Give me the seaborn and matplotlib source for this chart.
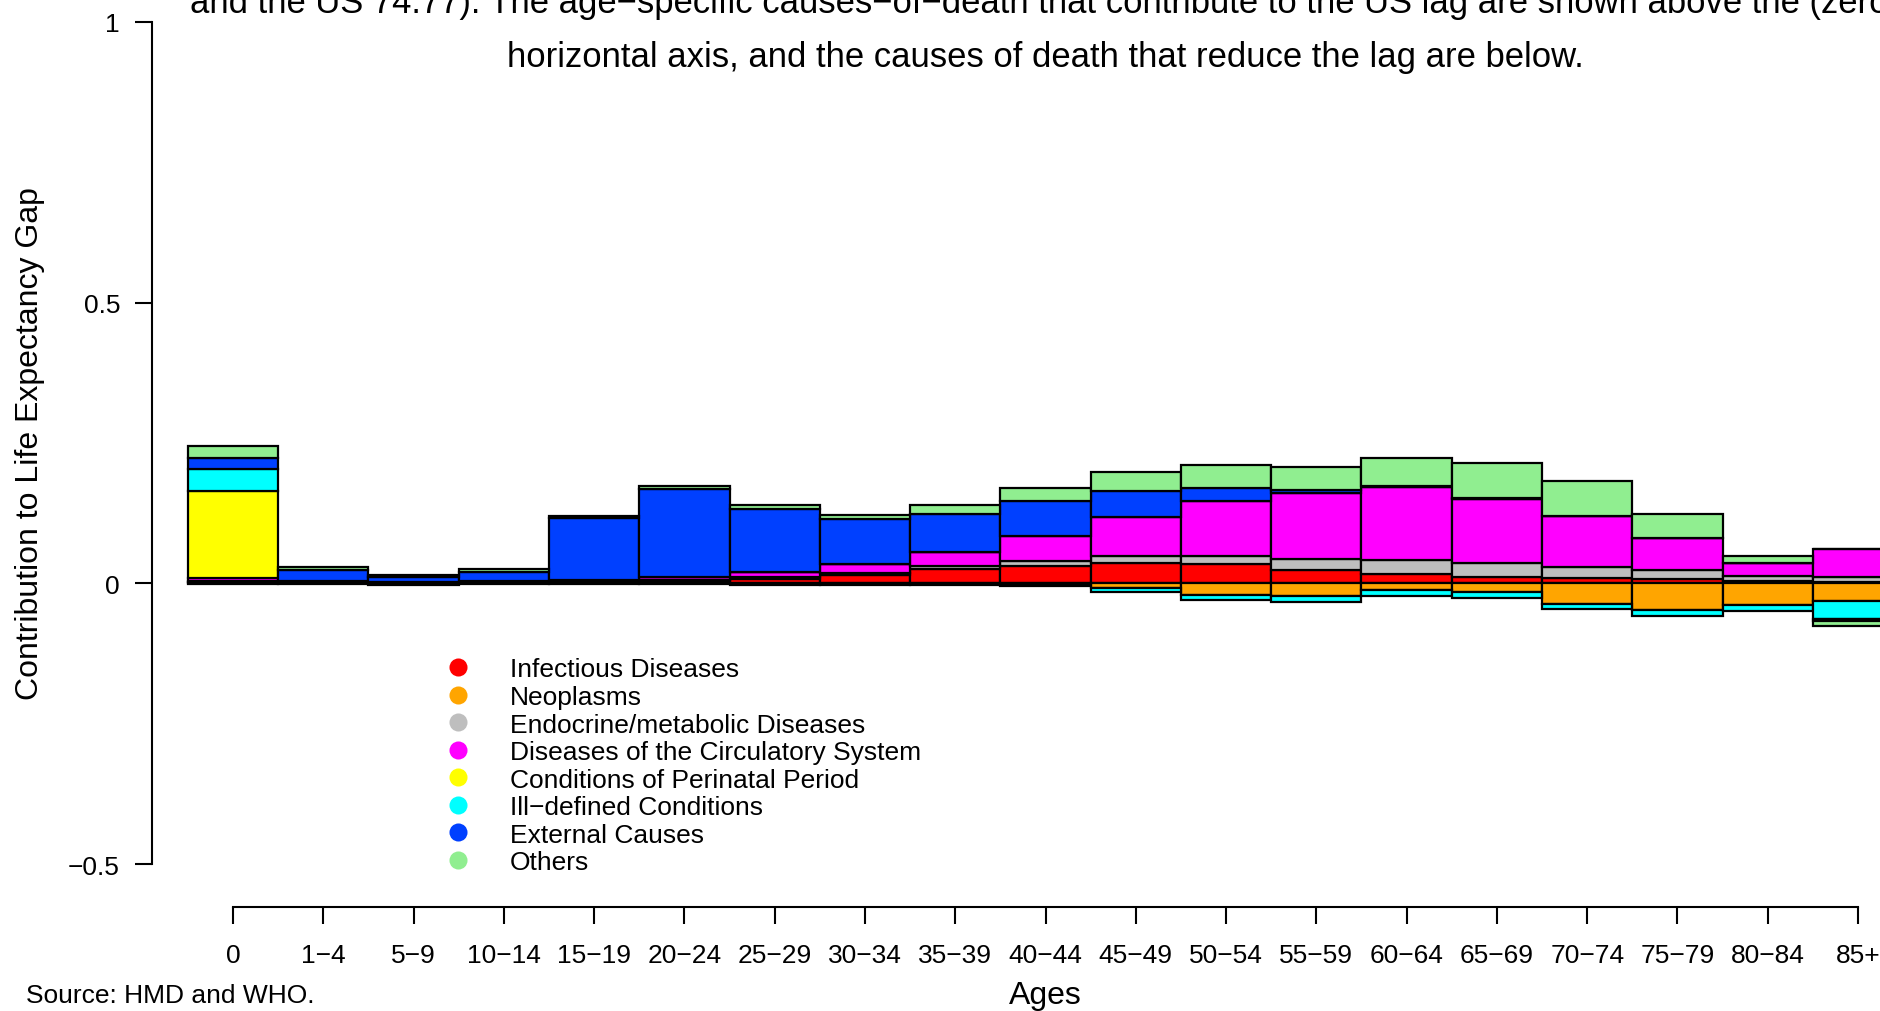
import numpy as np
import matplotlib
matplotlib.use("Agg")
import matplotlib.pyplot as plt
import seaborn as sns
from matplotlib.lines import Line2D

# ---------------- data ----------------
ages = ["0", "1\u22124", "5\u22129", "10\u221214", "15\u221219", "20\u221224", "25\u221229",
        "30\u221234", "35\u221239", "40\u221244", "45\u221249", "50\u221254", "55\u221259",
        "60\u221264", "65\u221269", "70\u221274", "75\u221279", "80\u221284", "85+"]

causes = ["Infectious Diseases", "Neoplasms", "Endocrine/metabolic Diseases",
          "Diseases of the Circulatory System", "Conditions of Perinatal Period",
          "Ill\u2212defined Conditions", "External Causes", "Others"]

infectious = [0.003, 0.001, 0.001, 0.001, 0.002, 0.004, 0.007, 0.015, 0.026, 0.031,
              0.036, 0.034, 0.023, 0.016, 0.011, 0.009, 0.007, 0.004, 0.003]
neoplasms = [-0.001, -0.001, -0.002, -0.001, -0.001, -0.001, -0.002, -0.002, -0.002, -0.003,
             -0.009, -0.020, -0.022, -0.011, -0.015, -0.036, -0.047, -0.039, -0.031]
endocrine = [0.002, 0.001, 0.001, 0.001, 0.001, 0.002, 0.004, 0.004, 0.005, 0.008,
             0.012, 0.015, 0.021, 0.025, 0.025, 0.021, 0.016, 0.009, 0.008]
circulatory = [0.005, 0.002, 0.001, 0.002, 0.003, 0.006, 0.009, 0.015, 0.025, 0.045,
               0.070, 0.097, 0.117, 0.131, 0.115, 0.090, 0.058, 0.023, 0.050]
perinatal = [0.155, 0.0, 0.0, 0.0, 0.0, 0.0, 0.0, 0.0, 0.0, 0.0,
             0.0, 0.0, 0.0, 0.0, 0.0, 0.0, 0.0, 0.0, 0.0]
illdefined = [0.039, 0.0, 0.0, 0.0, 0.0, 0.0, 0.0, 0.0, 0.0, -0.002,
              -0.006, -0.009, -0.012, -0.012, -0.011, -0.009, -0.011, -0.011, -0.033]
external = [0.019, 0.020, 0.008, 0.017, 0.110, 0.156, 0.113, 0.080, 0.068, 0.062,
            0.046, 0.023, 0.006, 0.001, 0.0005, 0.0005, 0.0, 0.001, -0.003]
others = [0.021, 0.005, 0.0035, 0.005, 0.004, 0.006, 0.007, 0.008, 0.015, 0.024,
          0.035, 0.042, 0.041, 0.051, 0.063, 0.062, 0.042, 0.011, -0.009]

series = [infectious, neoplasms, endocrine, circulatory, perinatal, illdefined, external, others]
colors = ["#FF0000", "#FFA500", "#BEBEBE", "#FF00FF", "#FFFF00", "#00FFFF", "#0040FF", "#90EE90"]

ytick_vals = [-0.5, 0, 0.5, 1]
ytick_labels = ["\u22120.5", "0", "0.5", "1"]

title_lines = [
    "and the US 74.77). The age\u2212specific causes\u2212of\u2212death that contribute to the US lag are shown above the (zero)",
    "horizontal axis, and the causes of death that reduce the lag are below.",
]

# ---------------- style ----------------
sns.set_style("ticks")
plt.rcParams["font.family"] = ["Liberation Sans", "DejaVu Sans"]
plt.rcParams["text.color"] = "black"
plt.rcParams["axes.labelcolor"] = "black"
plt.rcParams["xtick.color"] = "black"
plt.rcParams["ytick.color"] = "black"
plt.rcParams["axes.edgecolor"] = "black"
FS = 19
FS_LAB = 23
FS_TITLE = 24.9

W, H = 1881, 1012
fig = plt.figure(figsize=(W / 100, H / 100), dpi=100)

x_spine_px = 152
ax = fig.add_axes([x_spine_px / W, 0, (W - x_spine_px) / W, 1])

# pixel mapping: bar i centre at 233 + i*90.28 ; y value v at 584.4 - v*561.6
px0, dpx = 233.0, 90.28
py0, dpy = 584.4, 561.6

pos_base = np.zeros(len(ages))
neg_base = np.zeros(len(ages))
for vals, col in zip(series, colors):
    v = np.asarray(vals, dtype=float)
    bottom = np.where(v >= 0, pos_base, neg_base)
    sns.barplot(x=ages, y=v, order=ages, bottom=bottom, color=col, saturation=1,
                width=1.0, edgecolor="black", linewidth=1.6, errorbar=None, ax=ax)
    pos_base += np.clip(v, 0, None)
    neg_base += np.clip(v, None, 0)

ax.set_xlim((x_spine_px - px0) / dpx, (W - px0) / dpx)
ax.set_ylim((py0 - H) / dpy, py0 / dpy)

# axes styling (R-like detached axes)
for s in ["top", "right"]:
    ax.spines[s].set_visible(False)
ax.spines["left"].set_bounds(-0.5, 1)
ax.spines["left"].set_linewidth(1.5)
ax.spines["left"].set_color("black")
ax.spines["bottom"].set_position(("data", (py0 - 908.0) / dpy))
ax.spines["bottom"].set_bounds(0, len(ages) - 1)
ax.spines["bottom"].set_linewidth(1.5)
ax.spines["bottom"].set_color("black")

ax.set_yticks(ytick_vals)
ax.set_yticklabels(ytick_labels)
ax.set_xticks(range(len(ages)))
ax.set_xticklabels(ages)
ax.tick_params(axis="y", length=12, width=1.5, pad=11, labelsize=FS, colors="black")
ax.tick_params(axis="x", length=12.5, width=1.5, pad=13.5, labelsize=FS, colors="black")
ax.set_xlabel("")
ax.set_ylabel("")
ax.grid(False)
ax.set_facecolor("white")

# texts
fig.text(30 / W, 1 - 444 / H, "Contribution to Life Expectancy Gap", rotation=90,
         ha="center", va="center", fontsize=FS_LAB, color="black")
fig.text(1045 / W, 1 - 996 / H, "Ages", ha="center", va="center", fontsize=FS_LAB, color="black")
fig.text(26 / W, 1 - 996 / H, "Source: HMD and WHO.", ha="left", va="center", fontsize=FS,
         color="black")
fig.text(1045 / W, 1 - 4 / H, title_lines[0], ha="center", va="center", fontsize=FS_TITLE,
         color="black")
fig.text(1045 / W, 1 - 57.5 / H, title_lines[1], ha="center", va="center", fontsize=FS_TITLE,
         color="black")

# legend
handles = [Line2D([], [], marker="o", linestyle="none", markersize=13,
                  markerfacecolor=c, markeredgewidth=0) for c in colors]
ax.legend(handles, causes, loc="upper left", bbox_to_anchor=(445 / W, 1 - 658.5 / H),
          bbox_transform=fig.transFigure, frameon=False, borderpad=0, borderaxespad=0,
          handlelength=1.0, handletextpad=1.47, labelspacing=0.133, labelcolor="black",
          prop={"family": ["Liberation Sans", "DejaVu Sans"], "size": FS})

fig.savefig("out.png", dpi=100, facecolor="white")
